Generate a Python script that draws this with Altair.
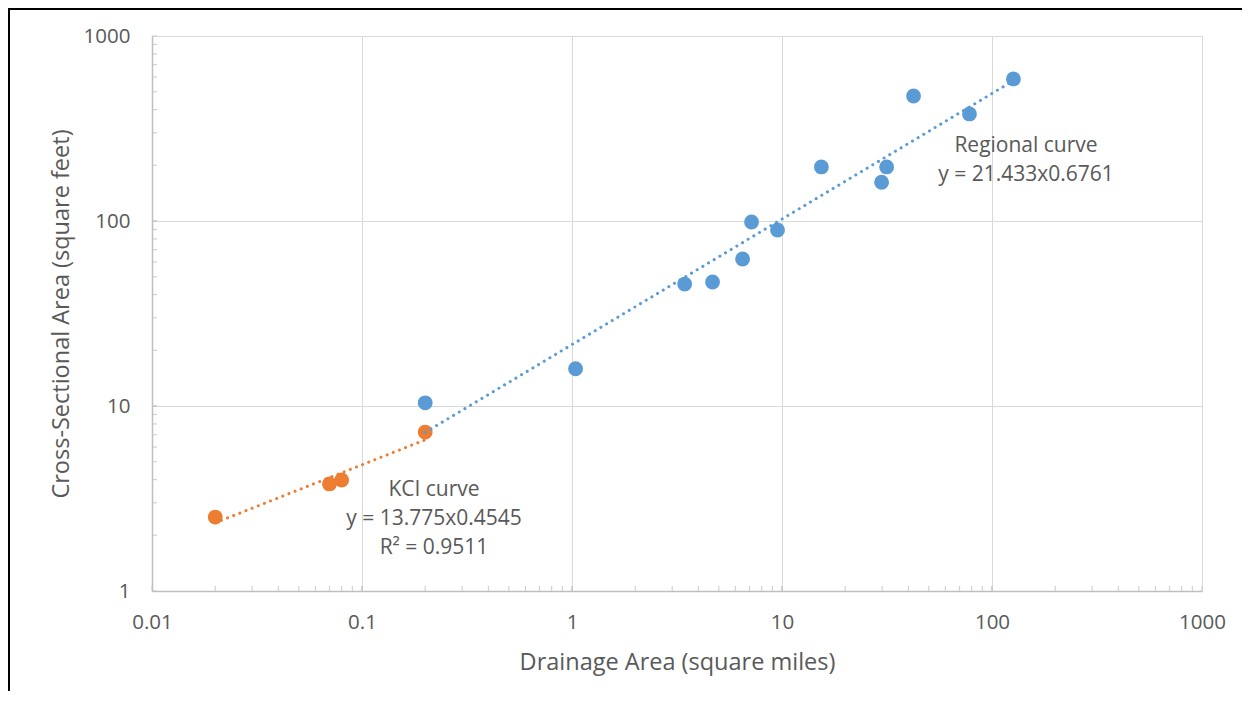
import altair as alt
import pandas as pd

# Regional curve data (blue)
reg_x = [0.2, 1.04, 3.44, 4.67, 6.49, 7.16, 9.52, 15.4, 29.8, 31.5, 42.3, 78.1, 126.5]
reg_y = [10.4, 15.9, 45.6, 46.8, 62.3, 98.8, 89.4, 196, 162, 196, 474, 379, 586]

# KCI curve data (orange)
kci_x = [0.02, 0.07, 0.08, 0.2]
kci_y = [2.51, 3.79, 3.98, 7.23]

x_major = [0.01, 0.1, 1, 10, 100, 1000]
y_major = [1, 10, 100, 1000]
x_minor = [m * 10.0 ** k for k in range(-2, 3) for m in range(1, 11)]
y_minor = [m * 10.0 ** k for k in range(0, 3) for m in range(1, 11)]

BLUE = "#5B9BD5"
ORANGE = "#ED7D31"
TXT = "#595959"
FONT = "Open Sans"
W, H = 1050, 555

reg = pd.DataFrame({"x": reg_x, "y": reg_y})
kci = pd.DataFrame({"x": kci_x, "y": kci_y})

xs = alt.Scale(type="log", domain=[0.01, 1000], nice=False)
ys = alt.Scale(type="log", domain=[1, 1000], nice=False)

xaxis = alt.Axis(values=x_major, format="~g", grid=True, gridColor="#d9d9d9", gridWidth=1,
                 ticks=False, tickSize=0, domainColor="#bfbfbf", domainWidth=1.5,
                 labelFlush=False, labelOverlap=False,
                 labelFont=FONT, labelFontSize=20.5, labelColor=TXT, labelPadding=21,
                 title="Drainage Area (square miles)", titleFont=FONT, titleFontSize=23.5,
                 titleFontWeight="normal", titleColor=TXT, titleY=71, titleBaseline="middle")
yaxis = alt.Axis(values=y_major, format="~g", grid=True, gridColor="#d9d9d9", gridWidth=1,
                 ticks=False, tickSize=0, domainColor="#bfbfbf", domainWidth=1.5,
                 labelFlush=False, labelOverlap=False,
                 labelFont=FONT, labelFontSize=20.5, labelColor=TXT, labelPadding=22,
                 title="Cross-Sectional Area (square feet)", titleFont=FONT, titleFontSize=23.5,
                 titleFontWeight="normal", titleColor=TXT, titleX=-91, titleY=H / 2,
                 titleBaseline="middle")

base_pts = alt.Chart(reg).mark_circle(size=220, opacity=1, color=BLUE).encode(
    x=alt.X("x:Q", scale=xs, axis=xaxis), y=alt.Y("y:Q", scale=ys, axis=yaxis))
kci_pts = alt.Chart(kci).mark_circle(size=220, opacity=1, color=ORANGE).encode(
    x=alt.X("x:Q", scale=xs), y=alt.Y("y:Q", scale=ys))

dash = [0.1, 6.5]
reg_line = alt.Chart(reg).transform_regression("x", "y", method="pow").mark_line(
    color=BLUE, strokeWidth=3, strokeDash=dash, strokeCap="round").encode(
    x=alt.X("x:Q", scale=xs), y=alt.Y("y:Q", scale=ys))
kci_line = alt.Chart(kci).transform_regression("x", "y", method="pow").mark_line(
    color=ORANGE, strokeWidth=3, strokeDash=dash, strokeCap="round").encode(
    x=alt.X("x:Q", scale=xs), y=alt.Y("y:Q", scale=ys))

# minor tick marks (inside)
xt = alt.Chart(pd.DataFrame({"x": x_minor, "y": [1] * len(x_minor)})).mark_tick(
    orient="vertical", size=5, thickness=1.2, color="#bfbfbf", yOffset=-2.5).encode(
    x=alt.X("x:Q", scale=xs), y=alt.Y("y:Q", scale=ys))
yt = alt.Chart(pd.DataFrame({"x": [0.01] * len(y_minor), "y": y_minor})).mark_tick(
    orient="horizontal", size=5, thickness=1.2, color="#bfbfbf", xOffset=2.5).encode(
    x=alt.X("x:Q", scale=xs), y=alt.Y("y:Q", scale=ys))

ann_text = ["Regional curve", "y = 21.433x0.6761", "KCI curve", "y = 13.775x0.4545", "R² = 0.9511"]
ann_px = [874, 874, 282, 282, 282]
ann_py = [110, 139, 454, 483, 512]
anns = [alt.Chart(pd.DataFrame({"t": [t]})).mark_text(
    font=FONT, fontSize=21, color=TXT, align="center", baseline="middle").encode(
    text="t:N", x=alt.value(px), y=alt.value(py)) for t, px, py in zip(ann_text, ann_px, ann_py)]

one = pd.DataFrame({"a": [0]})
border_left = alt.Chart(one).mark_rule(color="black", strokeWidth=2).encode(
    x=alt.value(-143), y=alt.value(-28), y2=alt.value(H + 110))
border_top = alt.Chart(one).mark_rule(color="black", strokeWidth=2).encode(
    y=alt.value(-27), x=alt.value(-144), x2=alt.value(W + 50))

chart = alt.layer(base_pts, kci_pts, reg_line, kci_line, xt, yt, *anns, border_left, border_top).properties(
    width=W, height=H, autosize=alt.AutoSizeParams(type="none"),
    padding={"left": 144, "top": 28, "right": 40, "bottom": 100}
).configure_view(stroke=None).configure(background="white")

chart.save("out.html", embed_options={"renderer": "svg", "actions": False})
